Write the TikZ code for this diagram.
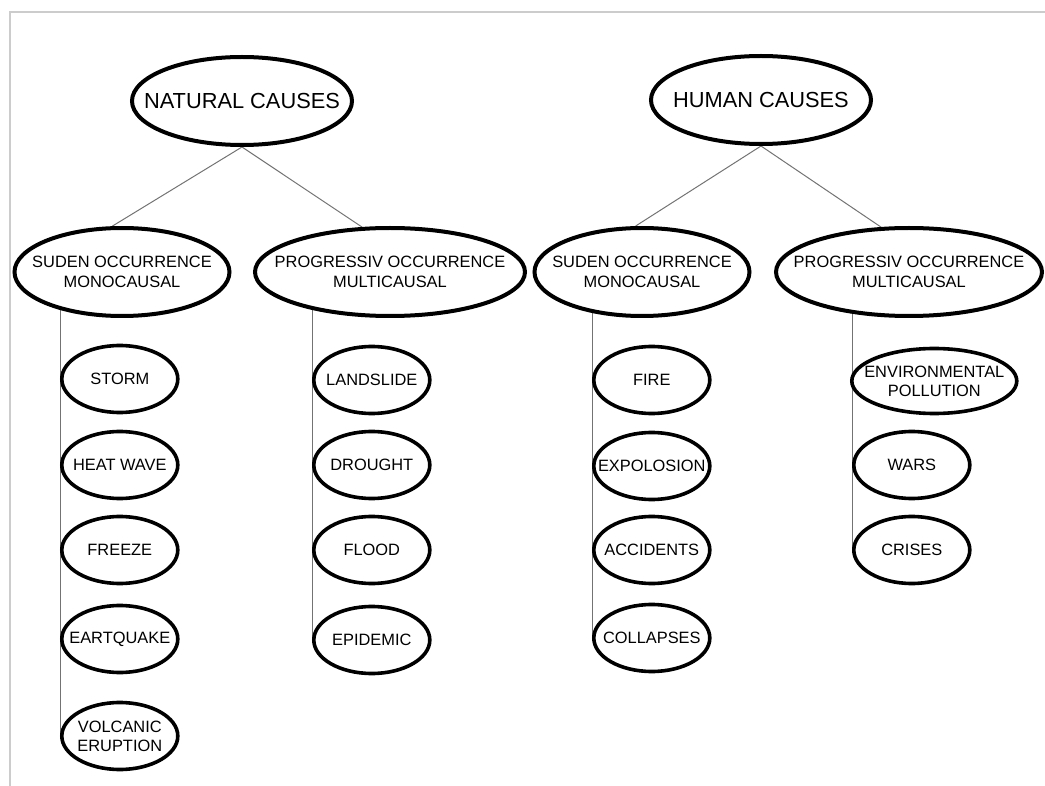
\documentclass[tikz,border=0pt]{standalone}
\usepackage{fontspec}
\setmainfont{Liberation Sans}
\usetikzlibrary{
  positioning,
  shapes.geometric,
  backgrounds
}

\begin{document}
\begin{tikzpicture}[
  x=0.5pt, y=-0.5pt,
  cause/.style={ellipse, draw, line width=2pt, fill=white, inner xsep=-12pt, inner ysep=0pt,
                minimum width=110pt, minimum height=44pt, font=\fontsize{10.9}{13}\selectfont},
  kind/.style={ellipse, draw, line width=2pt, fill=white, inner xsep=-12pt, inner ysep=0pt,
               minimum height=44pt, align=center, font=\fontsize{8.2}{10}\selectfont},
  item/.style={ellipse, draw, line width=1.8pt, fill=white, inner xsep=-12pt, inner ysep=0pt,
               minimum width=58pt, minimum height=33.5pt, anchor=west, align=center,
               font=\fontsize{8.2}{9.5}\selectfont},
  link/.style={draw=black!55, line width=0.5pt},
]
  \useasboundingbox (0,0) rectangle (1045,786);
  \draw[black!20, line width=1pt] (10,786) -- (10,12) -- (1045,12);

  % top level
  \node[cause] (nat) at (242,101) {NATURAL CAUSES};
  \node[cause] (hum) at (761,100) {HUMAN CAUSES};

  % kind of occurrence
  \node[kind, minimum width=107.5pt] (sud1) at (122,272) {SUDEN OCCURRENCE\\MONOCAUSAL};
  \node[kind, minimum width=135pt] (prog1) at (390,272) {PROGRESSIV OCCURRENCE\\MULTICAUSAL};
  \node[kind, minimum width=107.5pt] (sud2) at (642,272) {SUDEN OCCURRENCE\\MONOCAUSAL};
  \node[kind, minimum width=133pt] (prog2) at (909,272) {PROGRESSIV OCCURRENCE\\MULTICAUSAL};

  % natural, sudden
  \node[item] (storm) at (60,379) {STORM};
  \node[item] (heat) at (60,465) {HEAT WAVE};
  \node[item] (freeze) at (60,550) {FREEZE};
  \node[item] (quake) at (60,639) {EARTQUAKE};
  \node[item] (volcano) at (60,736) {VOLCANIC\\ERUPTION};

  % natural, progressive
  \node[item] (landslide) at (312,380) {LANDSLIDE};
  \node[item] (drought) at (312,465) {DROUGHT};
  \node[item] (flood) at (312,550) {FLOOD};
  \node[item] (epidemic) at (312,640) {EPIDEMIC};

  % human, sudden
  \node[item] (fire) at (592,380) {FIRE};
  \node[item] (blast) at (592,466) {EXPOLOSION};
  \node[item] (accidents) at (592,550) {ACCIDENTS};
  \node[item] (collapses) at (592,638) {COLLAPSES};

  % human, progressive
  \node[item, minimum width=82.5pt, minimum height=32.5pt] (pollution) at (850,381) {ENVIRONMENTAL\\POLLUTION};
  \node[item] (wars) at (852,465) {WARS};
  \node[item] (crises) at (852,550) {CRISES};

  \begin{scope}[on background layer]
    \draw[link] (nat.south) -- (sud1.102);
    \draw[link] (nat.south) -- (prog1.122);
    \draw[link] (hum.south) -- (sud2.98);
    \draw[link] (hum.south) -- (prog2.122);

    \draw[link] (sud1.center -| volcano.west) -- (volcano.west);
    \draw[link] (prog1.center -| epidemic.west) -- (epidemic.west);
    \draw[link] (sud2.center -| collapses.west) -- (collapses.west);
    \draw[link] (prog2.center -| crises.west) -- (crises.west);
  \end{scope}
\end{tikzpicture}
\end{document}
